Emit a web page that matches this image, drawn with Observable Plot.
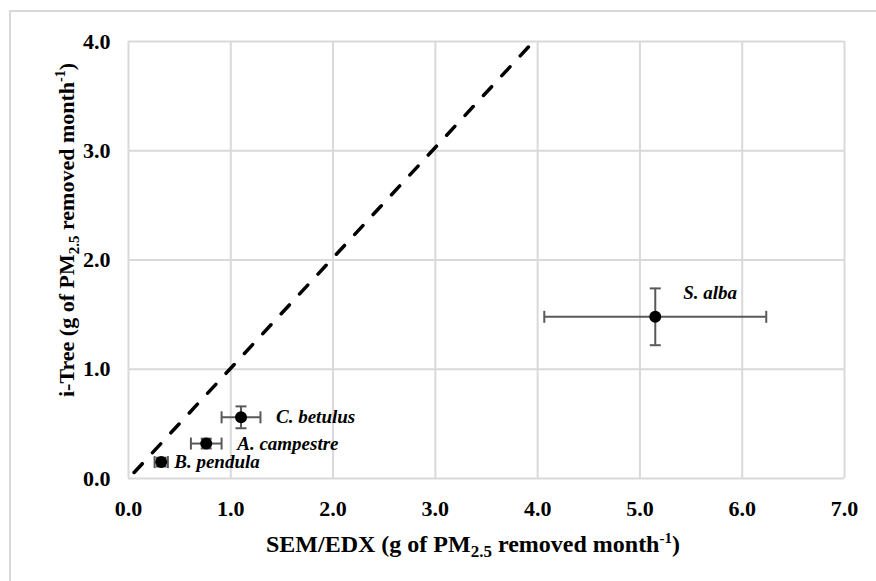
<!DOCTYPE html>
<html>
<head>
<meta charset="utf-8">
<script src="https://cdn.jsdelivr.net/npm/d3@7"></script>
<script src="https://cdn.jsdelivr.net/npm/@observablehq/plot@0.6"></script>
<style>
  html, body { margin: 0; padding: 0; background: #fff; overflow: hidden; }
  #wrap { position: relative; width: 876px; height: 581px; }
  #frame { position: absolute; left: 9px; top: 10px; width: 2000px; height: 2000px;
           border-left: 2px solid #d9d9d9; border-top: 2px solid #d9d9d9; }
  #chart { position: absolute; left: 0; top: 0; }
</style>
</head>
<body>
<div id="wrap"><div id="frame"></div><div id="chart"></div></div>
<script>
// Tree species and PM2.5 removal estimates (g month^-1)
const species   = ["B. pendula", "A. campestre", "C. betulus", "S. alba"];
const semEdx    = [0.32, 0.76, 1.10, 5.15];   // SEM/EDX estimate
const semEdxErr = [0.065, 0.15, 0.19, 1.085]; // ± error
const iTree     = [0.15, 0.32, 0.56, 1.48];   // i-Tree estimate
const iTreeErr  = [0.04, 0.045, 0.10, 0.26];  // ± error

// 1:1 reference line end points
const refX = [0.055, 3.91];
const refY = [0.055, 3.95];

// Axis ticks
const xTicks = [0, 1, 2, 3, 4, 5, 6, 7];
const yTicks = [0, 1, 2, 3, 4];

const rows = species.map((s, i) => ({
  species: s, x: semEdx[i], xErr: semEdxErr[i], y: iTree[i], yErr: iTreeErr[i]
}));
const refLine = refX.map((x, i) => ({x, y: refY[i]}));

// label placement (pixels, relative to each point)
const labelDx = {"B. pendula": 13, "A. campestre": 31, "C. betulus": 35, "S. alba": 28};
const labelDy = {"B. pendula": 0, "A. campestre": 0, "C. betulus": 0, "S. alba": -24};

// error-bar end caps as custom symbols
const capV = {draw(ctx, size) { const h = Math.sqrt(size / Math.PI); ctx.moveTo(0, -h); ctx.lineTo(0, h); }};
const capH = {draw(ctx, size) { const h = Math.sqrt(size / Math.PI); ctx.moveTo(-h, 0); ctx.lineTo(h, 0); }};

const barColor = "#595959";
const gridColor = "#d9d9d9";
const serif = "'Liberation Serif', 'Times New Roman', serif";

const labelMarks = species.map(s => Plot.text(rows.filter(d => d.species === s), {
  x: "x", y: "y", text: "species",
  dx: labelDx[s], dy: labelDy[s],
  textAnchor: "start", lineAnchor: "middle",
  fontFamily: serif, fontSize: 19, fontWeight: "bold", fontStyle: "italic", fill: "#000"
}));

const plot = Plot.plot({
  width: 876,
  height: 581,
  marginLeft: 128,
  marginRight: 32,
  marginTop: 41,
  marginBottom: 103,
  style: {fontFamily: serif, fontSize: "22px", fontWeight: "bold", color: "#000", background: "transparent"},
  x: {domain: [0, 7], ticks: xTicks, tickFormat: d3.format(".1f"), tickSize: 0, tickPadding: 22, label: null},
  y: {domain: [0, 4], ticks: yTicks, tickFormat: d3.format(".1f"), tickSize: 0, tickPadding: 18, label: null},
  marks: [
    Plot.ruleX(xTicks, {stroke: gridColor, strokeWidth: 2}),
    Plot.ruleY(yTicks, {stroke: gridColor, strokeWidth: 2}),
    Plot.line(refLine, {x: "x", y: "y", stroke: "#000", strokeWidth: 3.5,
      strokeDasharray: "12,15.05", strokeLinecap: "round"}),
    // horizontal error bars
    Plot.ruleY(rows, {y: "y", x1: d => d.x - d.xErr, x2: d => d.x + d.xErr, stroke: barColor, strokeWidth: 2}),
    Plot.dot(rows, {x: d => d.x - d.xErr, y: "y", symbol: capV, r: 6, stroke: barColor, strokeWidth: 2, fill: "none"}),
    Plot.dot(rows, {x: d => d.x + d.xErr, y: "y", symbol: capV, r: 6, stroke: barColor, strokeWidth: 2, fill: "none"}),
    // vertical error bars
    Plot.ruleX(rows, {x: "x", y1: d => d.y - d.yErr, y2: d => d.y + d.yErr, stroke: barColor, strokeWidth: 2}),
    Plot.dot(rows, {x: "x", y: d => d.y - d.yErr, symbol: capH, r: 5.5, stroke: barColor, strokeWidth: 2, fill: "none"}),
    Plot.dot(rows, {x: "x", y: d => d.y + d.yErr, symbol: capH, r: 5.5, stroke: barColor, strokeWidth: 2, fill: "none"}),
    // points
    Plot.dot(rows, {x: "x", y: "y", r: 6, fill: "#000", stroke: "none"}),
    ...labelMarks
  ]
});

document.getElementById("chart").appendChild(plot);

// axis titles with subscript / superscript
const svg = d3.select(plot);
function title(sel, first, size) {
  sel.attr("font-family", serif).attr("font-size", size).attr("font-weight", "bold").attr("fill", "#000");
  sel.append("tspan").text(first + " (g of PM");
  sel.append("tspan").attr("dy", 5).attr("font-size", Math.round(size * 0.7)).text("2.5");
  sel.append("tspan").attr("dy", -5).text(" removed month");
  sel.append("tspan").attr("dy", -9).attr("font-size", Math.round(size * 0.62)).text("-1");
  sel.append("tspan").attr("dy", 9).text(")");
}
svg.append("text")
  .attr("x", 473).attr("y", 552).attr("text-anchor", "middle")
  .call(title, "SEM/EDX", 24);
svg.append("text")
  .attr("transform", "translate(74,230) rotate(-90)").attr("text-anchor", "middle")
  .call(title, "i-Tree", 22);
</script>
</body>
</html>
